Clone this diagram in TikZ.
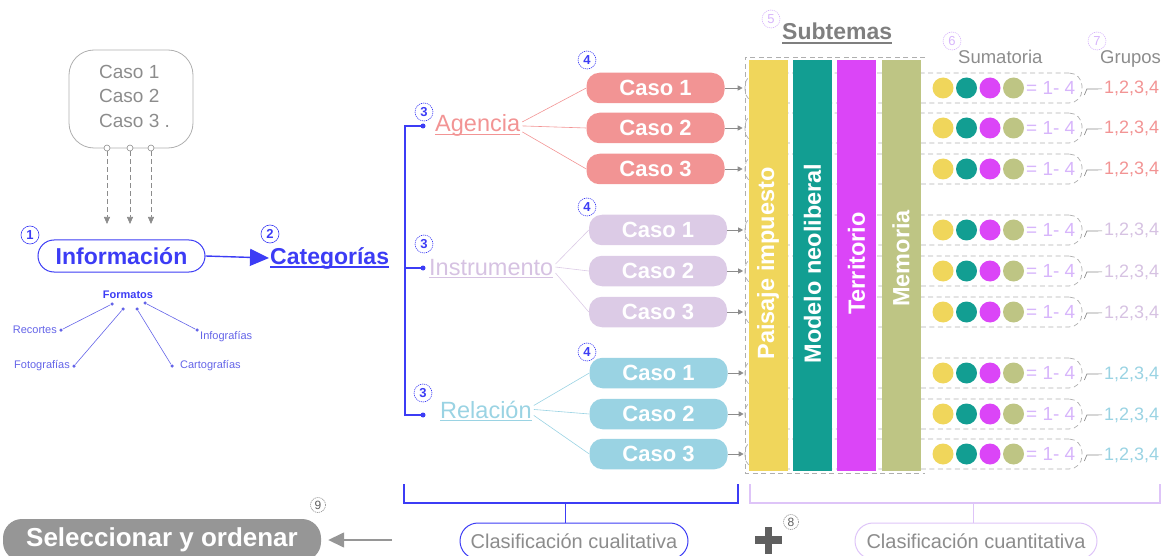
\documentclass[tikz,border=0pt]{standalone}
\usepackage{fontspec}
\setmainfont{Liberation Sans}
\usetikzlibrary{arrows.meta,calc}
\newcommand\fsz[1]{\fontsize{#1}{#1}\selectfont}
\definecolor{cblue}{RGB}{60,60,245}
\definecolor{cfmt}{RGB}{100,100,232}
\definecolor{csal}{RGB}{242,148,148}
\definecolor{clav}{RGB}{220,203,230}
\definecolor{clavtxt}{RGB}{214,194,226}
\definecolor{clb}{RGB}{154,211,227}
\definecolor{cyel}{RGB}{240,214,91}
\definecolor{cteal}{RGB}{18,158,146}
\definecolor{cmag}{RGB}{219,69,247}
\definecolor{coli}{RGB}{190,197,132}
\definecolor{cpurp}{RGB}{215,181,251}
\definecolor{cpbr}{RGB}{222,196,248}
\definecolor{cgray}{RGB}{140,140,140}
\definecolor{cdash}{RGB}{175,175,175}
\definecolor{cdark}{RGB}{95,95,95}
\definecolor{csel}{RGB}{150,150,150}
\begin{document}
\begin{tikzpicture}[x=1pt,y=-1pt,
  num/.style={circle,draw,dash pattern=on 1.2pt off 0.8pt,line width=0.6pt,inner sep=0pt,minimum size=18pt,font=\bfseries\fsz{13}},
  casebox/.style={rounded corners=13pt,minimum width=138pt,minimum height=30.5pt,inner sep=0pt,text=white,font=\bfseries\fsz{22}},
  rowbox/.style={draw=cdash,dash pattern=on 5pt off 3.5pt,line width=0.7pt,rounded corners=13pt,minimum width=337pt,minimum height=30pt,inner sep=0pt},
  colbar/.style={minimum width=39pt,minimum height=410pt,inner sep=0pt},
  coltxt/.style={rotate=90,text=white,font=\bfseries\fsz{23.5}},
  sdot/.style={circle,inner sep=0pt,minimum size=21pt},
  fdot/.style={circle,fill=cfmt,inner sep=0pt,minimum size=3.5pt},
  flbl/.style={text=cfmt,font=\fsz{11},inner sep=1pt},
  cattxt/.style={anchor=base west,inner sep=0pt,font=\fsz{23.5}},
  sumtxt/.style={anchor=base west,inner sep=0pt,text=cpurp,font=\fsz{19}},
  grptxt/.style={anchor=base west,inner sep=0pt,font=\fsz{18}},
  casearrow/.style={draw=cgray,line width=0.7pt,-{Triangle[length=5pt,width=5pt]}},
  hookline/.style={draw=cgray,line width=0.7pt},
  clsbox/.style={rounded corners=18pt,line width=1pt,minimum height=36pt,text=cgray,font=\fsz{20}}
]
\useasboundingbox (0,0) rectangle (1162,556);

% ---------- source box ----------
\node[draw=cdash,line width=0.8pt,rounded corners=25pt,minimum width=124pt,minimum height=98pt] (src) at (131,99) {};
\node[anchor=west,align=left,text=cgray,inner sep=0pt,font=\fontsize{19}{24.5}\selectfont] (srct) at (99,96) {Caso 1\\Caso 2\\Caso 3 .};
\foreach \x [count=\i] in {107,130,151}{
  \node[circle,draw=cgray,fill=white,line width=0.6pt,inner sep=0pt,minimum size=6pt] (p\i) at (\x,148) {};
  \coordinate (q\i) at (\x,224);
  \draw[cgray,line width=0.7pt,dash pattern=on 5pt off 3pt,-{Triangle[length=7pt,width=6pt]}] (p\i) -- (q\i);
}

% ---------- Informacion / Categorias ----------
\node[num,draw=cblue,text=cblue,dash pattern=] (n1) at (30,235) {1};
\node[draw=cblue,line width=1pt,rounded corners=16pt,minimum width=167pt,minimum height=32pt,inner sep=0pt,text=cblue,font=\bfseries\fsz{23}] (info) at (121.5,256) {Información};
\node[num,draw=cblue,text=cblue,dash pattern=] (n2) at (270,234) {2};
\node[anchor=base west,inner sep=0pt,text=cblue,font=\bfseries\fsz{23}] (cat) at (270,264) {Categorías};
\draw[cblue,line width=1.4pt] ([yshift=-3pt]cat.base west) -- ([yshift=-3pt]cat.base east);
\draw[cblue,line width=1.4pt,-{Triangle[length=19pt,width=17pt]}] (info.east) -- ([xshift=-1pt]cat.west);

% ---------- Formatos ----------
\node[text=cblue,font=\bfseries\fsz{11}] (fmt) at (128,295) {Formatos};
\node[fdot] (f1) at (112,304) {};
\node[fdot] (f2) at (123,309) {};
\node[fdot] (f3) at (137,309) {};
\node[fdot] (f4) at (145,303) {};
\node[fdot] (r1) at (61,330) {};
\node[fdot] (r2) at (74,366) {};
\node[fdot] (r3) at (172,366) {};
\node[fdot] (r4) at (197,330) {};
\foreach \a/\b in {f1/r1,f2/r2,f3/r3,f4/r4}{\draw[cfmt,line width=0.6pt] (\a) -- (\b);}
\node[flbl,anchor=east] (l1) at ([xshift=-1pt]r1.west) {Recortes};
\node[flbl,anchor=east] (l2) at ([xshift=-1pt]r2.west) {Fotografías};
\node[flbl,anchor=west] (l3) at ([xshift=5pt]r3.east) {Cartografías};
\node[flbl,anchor=west] (l4) at (199,337) {Infografías};

% ---------- bracket and categories ----------
\node[circle,fill=cblue,inner sep=0pt,minimum size=5pt] (d1) at (423,126) {};
\node[circle,fill=cblue,inner sep=0pt,minimum size=5pt] (d2) at (423,268) {};
\node[circle,fill=cblue,inner sep=0pt,minimum size=5pt] (d3) at (423,415) {};
\draw[cblue,line width=1.2pt] (d1.center) -- ++(-18,0) coordinate (bt) |- (d3.center);
\draw[cblue,line width=1.2pt] (d2.center) -- (d2.center -| bt);

\node[num,draw=cblue,text=cblue] (n3a) at (424,112) {3};
\node[num,draw=cblue,text=cblue] (n3b) at (424,244) {3};
\node[num,draw=cblue,text=cblue] (n3c) at (423,393) {3};

\node[cattxt,text=csal] (ag) at (435,132) {Agencia};
\draw[csal,line width=1pt] ([yshift=-2.5pt]ag.base west) -- ([yshift=-2.5pt]ag.base east);
\node[cattxt,text=clavtxt] (ins) at (429,275) {Instrumento};
\draw[clavtxt,line width=1pt] ([yshift=-2.5pt]ins.base west) -- ([yshift=-2.5pt]ins.base east);
\node[cattxt,text=clb] (rel) at (440,418) {Relación};
\draw[clb,line width=1pt] ([yshift=-2.5pt]rel.base west) -- ([yshift=-2.5pt]rel.base east);

\node[num,draw=cblue,text=cblue] (n4a) at (587,60) {4};
\node[num,draw=cblue,text=cblue] (n4b) at (587,207) {4};
\node[num,draw=cblue,text=cblue] (n4c) at (587,352) {4};

% ---------- row boxes (behind columns) ----------
\foreach \y [count=\i] in {88,128,169,230,271,312,373,414,454}{
  \node[rowbox] (rb\i) at (913.5,\y) {};
}
\draw[cdash,line width=0.7pt,dash pattern=on 5pt off 3.5pt] (925,57) -- (745,57) -- (745,473) -- (925,473);

% ---------- cases ----------
\foreach \y/\c [count=\i] in {88/1,128/2,169/3}{
  \node[casebox,fill=csal] (a\i) at (655.5,\y) {Caso \c};
  \draw[casearrow] (a\i.east) -- ++(18,0);
}
\foreach \y/\c [count=\i] in {230/1,271/2,312/3}{
  \node[casebox,fill=clav] (b\i) at (658,\y) {Caso \c};
  \draw[casearrow] (b\i.east) -- ++(16,0);
}
\foreach \y/\c [count=\i] in {373/1,414/2,454/3}{
  \node[casebox,fill=clb] (c\i) at (658.5,\y) {Caso \c};
  \draw[casearrow] (c\i.east) -- ++(16,0);
}
\draw[csal,line width=0.6pt] ([shift={(2pt,4pt)}]ag.east) -- (a1.west);
\draw[csal,line width=0.6pt] ([shift={(2pt,0pt)}]ag.east) -- (a2.west);
\draw[csal,line width=0.6pt] ([shift={(2pt,-6pt)}]ag.east) -- (a3.west);
\draw[clav,line width=0.6pt] ([shift={(2pt,3pt)}]ins.east) -- (b1.west);
\draw[clav,line width=0.6pt] ([shift={(2pt,0pt)}]ins.east) -- (b2.west);
\draw[clav,line width=0.6pt] ([shift={(2pt,-6pt)}]ins.east) -- (b3.west);
\draw[clb,line width=0.6pt] ([shift={(2pt,4pt)}]rel.east) -- (c1.west);
\draw[clb,line width=0.6pt] ([shift={(2pt,0pt)}]rel.east) -- (c2.west);
\draw[clb,line width=0.6pt] ([shift={(2pt,-6pt)}]rel.east) -- (c3.west);

% ---------- subtemas ----------
\node[num,draw=cpurp,text=cpurp,font=\fsz{13}] (n5) at (771,19) {5};
\node[anchor=base west,inner sep=0pt,text=cdark!80,font=\bfseries\fsz{23}] (sub) at (782,40) {Subtemas};
\draw[cdark!80,line width=1.2pt] ([yshift=-3pt]sub.base west) -- ([yshift=-3pt]sub.base east);

\node[colbar,fill=cyel] (k1) at (768,265.5) {};
\node[colbar,fill=cteal] (k2) at (812.5,265.5) {};
\node[colbar,fill=cmag] (k3) at (856.5,265.5) {};
\node[colbar,fill=coli] (k4) at (901,265.5) {};
\node[coltxt] (t1) at ([yshift=2pt]k1.center) {Paisaje impuesto};
\node[coltxt] (t2) at ([yshift=2pt]k2.center) {Modelo neoliberal};
\node[coltxt] (t3) at ([yshift=2pt]k3.center) {Territorio};
\node[coltxt] (t4) at ([yshift=7pt]k4.center) {Memoria};

% ---------- sumatoria / grupos ----------
\node[num,draw=cpurp,text=cpurp,font=\fsz{13}] (n6) at (952,41) {6};
\node[anchor=base west,inner sep=0pt,text=cgray,font=\fsz{18.5}] (sum) at (958,64) {Sumatoria};
\node[num,draw=cpurp,text=cpurp,font=\fsz{13}] (n7) at (1097,41) {7};
\node[anchor=base west,inner sep=0pt,text=cgray,font=\fsz{18.5}] (grp) at (1100,64) {Grupos};

\foreach \y/\gc [count=\i] in {88/csal,128/csal,169/csal,230/clavtxt,271/clavtxt,312/clavtxt,373/clb,414/clb,454/clb}{
  \node[sdot,fill=cyel] (s\i a) at (943,\y) {};
  \node[sdot,fill=cteal] (s\i b) at (966.5,\y) {};
  \node[sdot,fill=cmag] (s\i c) at (990,\y) {};
  \node[sdot,fill=coli] (s\i d) at (1013.5,\y) {};
  \node[sumtxt] (e\i) at (1026,\y+6.5) {= 1- 4};
  \node[grptxt,text=\gc] (g\i) at (1104,\y+6) {1,2,3,4};
  \draw[hookline] ([shift={(2pt,-7pt)}]rb\i.east) -- ([shift={(4.5pt,-1pt)}]rb\i.east) -- ([xshift=-2pt]g\i.west);
}

% ---------- bottom ----------
\draw[cblue,line width=1.2pt] (404,484) -- (404,503) -- (738,503) -- (738,484);
\node[clsbox,draw=cblue,minimum width=228pt] (cq) at (574,541) {Clasificación cualitativa};
\coordinate (cqt) at (565,503);
\draw[cblue,line width=1pt] (cqt) -- (cqt |- cq.north);

\draw[cpbr,line width=1.2pt] (750,484) -- (750,503) -- (1160,503) -- (1160,484);
\node[clsbox,draw=cpbr,minimum width=242pt] (cn) at (976,541) {Clasificación cuantitativa};
\coordinate (cnt) at (973,503);
\draw[cpbr,line width=1pt] (cnt) -- (cnt |- cn.north);

\draw[cdark,line width=7.5pt] (755,540) -- (782,540);
\draw[cdark,line width=7.5pt] (768.5,527) -- (768.5,554);
\node[num,draw=cgray,text=cdark,minimum size=15pt,font=\fsz{12}] (n8) at (791,522) {8};

\node[fill=csel,rounded corners=19pt,minimum width=318pt,minimum height=42pt,inner sep=0pt,text=white,font=\bfseries\fsz{26}] (sel) at (162,540) {Seleccionar y ordenar};
\node[num,draw=cgray,text=cdark,minimum size=15pt,font=\fsz{12}] (n9) at (318,505) {9};
\coordinate (sa) at (392,540);
\draw[csel,line width=1.5pt,-{Triangle[length=16pt,width=15pt]}] (sa) -- ([xshift=7pt]sel.east);
\end{tikzpicture}
\end{document}
